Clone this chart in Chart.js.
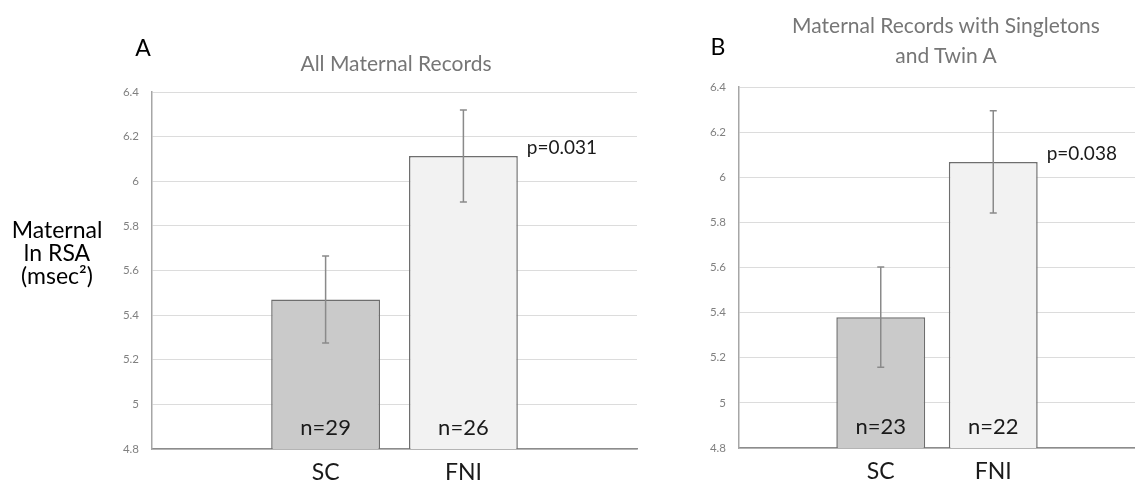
<!DOCTYPE html>
<html>
<head>
<meta charset="utf-8">
<script src="https://cdn.jsdelivr.net/npm/chart.js@4.4.0/dist/chart.umd.min.js"></script>
<style>
html,body{margin:0;padding:0;background:#fff;}
body{width:1135px;height:485px;position:relative;overflow:hidden;font-family:Lato,"Open Sans",sans-serif;}
canvas{position:absolute;top:0;}
.t{position:absolute;white-space:nowrap;transform:translateX(-50%);text-align:center;}
</style>
</head>
<body>
<canvas id="chartA" width="640" height="485" style="left:0px"></canvas>
<canvas id="chartB" width="495" height="485" style="left:640px"></canvas>

<div class="t" style="left:143px;top:34px;font-size:23px;line-height:1.2;color:#000;">A</div>
<div class="t" style="left:396px;top:50px;font-size:21px;line-height:1.2;color:#767676;">All Maternal Records</div>
<div class="t" style="left:57px;top:218px;font-size:23px;line-height:23px;color:#000;">Maternal<br>ln RSA<br>(msec²)</div>

<div class="t" style="left:718px;top:33px;font-size:23px;line-height:1.2;color:#000;">B</div>
<div class="t" style="left:946px;top:10px;font-size:21px;line-height:30px;color:#767676;">Maternal Records with Singletons<br>and Twin A</div>

<script>
// ---- data ----
const categories = ['SC', 'FNI'];
const barColors = ['#cacaca', '#f2f2f2'];

const meansA = [5.47, 6.113];
const errorsA = [0.195, 0.206];
const countsA = [29, 26];
const pLabelsA = ['', 'p=0.031'];

const meansB = [5.38, 6.068];
const errorsB = [0.222, 0.227];
const countsB = [23, 22];
const pLabelsB = ['', 'p=0.038'];

const yTickValues = [4.8, 5, 5.2, 5.4, 5.6, 5.8, 6, 6.2, 6.4];
const yTickLabels = ['4.8', '5', '5.2', '5.4', '5.6', '5.8', '6', '6.2', '6.4'];

const X_MIN = -1.26, X_MAX = 2.26;

function makeChart(id, means, errors, counts, pLabels, layoutCfg) {
  const annot = {
    id: 'annot',
    afterDatasetsDraw(chart) {
      const ctx = chart.ctx;
      const meta = chart.getDatasetMeta(0);
      const ys = chart.scales.y;
      const area = chart.chartArea;
      ctx.save();
      meta.data.forEach((bar, i) => {
        const x = bar.x;
        const top = ys.getPixelForValue(means[i] + errors[i]);
        const bot = ys.getPixelForValue(means[i] - errors[i]);
        ctx.strokeStyle = '#8a8a8a';
        ctx.lineWidth = 1.5;
        ctx.beginPath();
        ctx.moveTo(x, top); ctx.lineTo(x, bot);
        ctx.moveTo(x - 3.5, top); ctx.lineTo(x + 3.5, top);
        ctx.moveTo(x - 3.5, bot); ctx.lineTo(x + 3.5, bot);
        ctx.stroke();

        ctx.fillStyle = '#1a1a1a';
        ctx.font = '22px Lato';
        ctx.textAlign = 'center';
        ctx.textBaseline = 'alphabetic';
        ctx.fillText('n=' + counts[i], x, area.bottom - 14);
        if (pLabels[i]) {
          ctx.font = '19px Lato';
          ctx.textAlign = 'left';
          ctx.fillText(pLabels[i], x + bar.width / 2 + 9, bar.y - 2);
        }
      });
      ctx.restore();
    }
  };

  return new Chart(document.getElementById(id), {
    type: 'bar',
    data: {
      datasets: [{
        data: categories.map((c, i) => ({ x: i, y: means[i] })),
        backgroundColor: barColors,
        borderColor: '#6e6e6e',
        borderWidth: 1.5,
        borderSkipped: false,
        categoryPercentage: 1,
        barPercentage: 0.79
      }]
    },
    options: {
      responsive: false,
      animation: false,
      devicePixelRatio: 1,
      layout: { padding: { top: layoutCfg.top, right: layoutCfg.right, left: 0, bottom: 0 } },
      plugins: { legend: { display: false }, tooltip: { enabled: false }, title: { display: false } },
      scales: {
        x: {
          type: 'linear',
          min: X_MIN,
          max: X_MAX,
          offset: false,
          bounds: 'data',
          grid: { display: false, drawTicks: false, offset: false },
          border: { color: '#8c8c8c', width: 1.5 },
          afterBuildTicks: s => {
            s.ticks = categories.map((c, i) => ({ value: i }));
            s.min = X_MIN;
            s.max = X_MAX;
          },
          afterFit: s => { s.height = layoutCfg.xAxisHeight; },
          ticks: {
            padding: 12,
            color: '#1a1a1a',
            maxRotation: 0,
            autoSkip: false,
            font: { family: 'Lato', size: 23, lineHeight: 1 },
            callback: v => (categories[v] !== undefined ? categories[v] : '')
          }
        },
        y: {
          min: 4.8,
          max: 6.4,
          afterBuildTicks: s => { s.ticks = yTickValues.map(v => ({ value: v })); },
          afterFit: s => { s.width = layoutCfg.yAxisWidth; },
          grid: { color: '#dcdcdc', lineWidth: 1, drawTicks: false },
          border: { color: '#a6a6a6', width: 1.5 },
          ticks: {
            padding: 13,
            color: '#808080',
            font: { family: 'Lato', size: 11.5 },
            callback: (v, i) => yTickLabels[i]
          }
        }
      }
    },
    plugins: [annot]
  });
}

makeChart('chartA', meansA, errorsA, countsA, pLabelsA, { top: 92, right: 3, yAxisWidth: 152, xAxisHeight: 36 });
makeChart('chartB', meansB, errorsB, countsB, pLabelsB, { top: 87, right: 0, yAxisWidth: 99, xAxisHeight: 37 });
</script>
</body>
</html>
